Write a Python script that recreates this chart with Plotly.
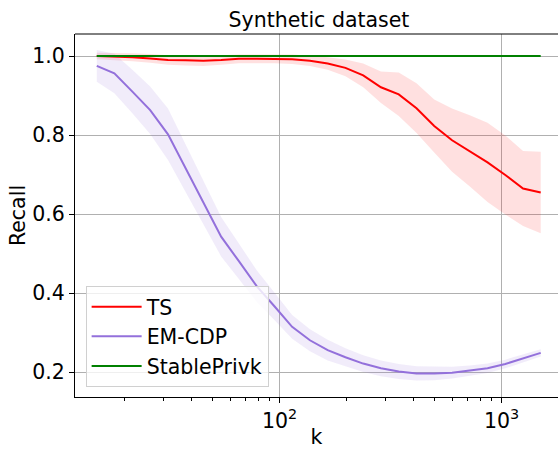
import plotly.graph_objects as go

k_values = [15, 18, 21.7, 26.1, 31.4, 37.7, 45.3, 54.5, 65.5, 78.8, 94.7, 113.8, 136.9,
            164.6, 197.9, 237.9, 286, 344, 413.6, 497, 598, 719, 864, 1039, 1249, 1500]

ts_mean = [1.0, 0.999, 0.997, 0.994, 0.99, 0.989, 0.988, 0.99, 0.993, 0.993, 0.993, 0.992, 0.988,
           0.981, 0.970, 0.951, 0.921, 0.903, 0.868, 0.823, 0.787, 0.760, 0.731, 0.699, 0.665, 0.655]
ts_std = [0.008, 0.009, 0.01, 0.011, 0.012, 0.013, 0.013, 0.012, 0.011, 0.011, 0.011, 0.012, 0.013,
          0.016, 0.021, 0.03, 0.04, 0.055, 0.063, 0.067, 0.08, 0.09, 0.1, 0.1, 0.095, 0.103]

em_mean = [0.975, 0.956, 0.910, 0.863, 0.802, 0.715, 0.630, 0.543, 0.481, 0.418, 0.367, 0.315, 0.281,
           0.256, 0.238, 0.222, 0.210, 0.202, 0.197, 0.197, 0.199, 0.204, 0.210, 0.221, 0.235, 0.249]
em_std = [0.04, 0.05, 0.055, 0.06, 0.065, 0.06, 0.055, 0.05, 0.045, 0.04, 0.035, 0.03, 0.028,
          0.026, 0.023, 0.021, 0.02, 0.019, 0.018, 0.017, 0.015, 0.013, 0.012, 0.011, 0.01, 0.009]

sp_mean = [1.0] * len(k_values)

series = [
    ("TS", ts_mean, ts_std, "#ff0000", "rgba(255,0,0,0.12)"),
    ("EM-CDP", em_mean, em_std, "#9370db", "rgba(147,112,219,0.13)"),
    ("StablePrivk", sp_mean, None, "#008000", None),
]

FONT = "DejaVu Sans"
FS = 20.5

fig = go.Figure()
for name, m, s, col, fcol in series:
    if s is not None:
        lo = [a - b for a, b in zip(m, s)]
        hi = [a + b for a, b in zip(m, s)]
        fig.add_trace(go.Scatter(x=k_values, y=lo, mode="lines", line=dict(width=0),
                                 showlegend=False, hoverinfo="skip"))
        fig.add_trace(go.Scatter(x=k_values, y=hi, mode="lines", line=dict(width=0),
                                 fill="tonexty", fillcolor=fcol, showlegend=False, hoverinfo="skip"))
for name, m, s, col, fcol in series:
    fig.add_trace(go.Scatter(x=k_values, y=m, mode="lines", name=name,
                             line=dict(color=col, width=2)))

minor_vals = [20, 30, 40, 50, 60, 70, 80, 90, 200, 300, 400, 500, 600, 700, 800, 900]

fig.update_layout(
    width=558, height=449,
    margin=dict(l=75, r=0, t=34, b=52, autoexpand=False),
    paper_bgcolor="white", plot_bgcolor="white",
    font=dict(family=FONT, size=FS, color="black"),
    title=dict(text="Synthetic dataset", x=319 / 558, xanchor="center",
               y=1 - 20 / 449, yanchor="middle", font=dict(size=FS)),
    showlegend=True,
    legend=dict(x=0.022, y=0.028, xanchor="left", yanchor="bottom", traceorder="normal",
                itemwidth=50,
                bgcolor="rgba(255,255,255,0.8)", bordercolor="#d0d0d0", borderwidth=1,
                font=dict(size=FS)),
    xaxis=dict(type="log", range=[1.078, 3.254], automargin=False,
               tickvals=[100, 1000], ticktext=["10<sup>2</sup>", "10<sup>3</sup>"],
               tickfont=dict(size=FS),
               ticks="outside", ticklen=5, tickcolor="black",
               showgrid=True, gridcolor="#b0b0b0", gridwidth=1,
               showline=True, linecolor="black", linewidth=1, zeroline=False,
               minor=dict(tickvals=minor_vals, ticks="outside", ticklen=3, tickcolor="black",
                          showgrid=False),
               title=dict(text="k", standoff=9, font=dict(size=FS))),
    yaxis=dict(range=[0.1375, 1.0557], tickvals=[0.2, 0.4, 0.6, 0.8, 1.0], automargin=False,
               ticktext=["0.2", "0.4", "0.6", "0.8", "1.0"],
               tickfont=dict(size=FS),
               ticks="outside", ticklen=5, tickcolor="black",
               showgrid=True, gridcolor="#b0b0b0", gridwidth=1,
               showline=True, linecolor="black", linewidth=1, zeroline=False,
               title=dict(text="Recall", standoff=1, font=dict(size=FS))),
)
fig.add_shape(type="line", xref="paper", yref="paper", x0=0, x1=1, y0=1, y1=1,
              line=dict(color="black", width=1))

fig.write_html("out.html", config={"displayModeBar": False},
               post_script="document.body.style.margin='0';")
